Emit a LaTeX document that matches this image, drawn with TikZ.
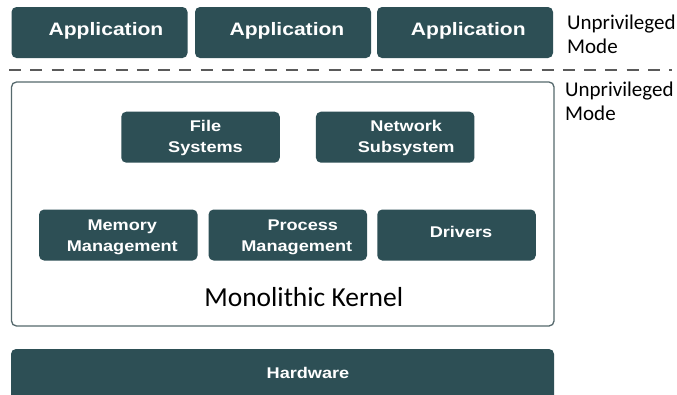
\documentclass[tikz,border=0pt]{standalone}
\usepackage{fontspec}
\newfontfamily\boxfont{Liberation Sans}[FakeStretch=1.17]
\newfontfamily\labelfont{Carlito}
\usetikzlibrary{calc}
\definecolor{slab}{HTML}{2D4F55}
\definecolor{kframe}{HTML}{56696D}
\definecolor{sepline}{HTML}{5A5A5A}
\tikzset{
  block/.style={fill=slab, rounded corners=5pt, inner sep=0pt},
  appbox/.style={block, minimum width=176pt, minimum height=51pt},
  unitbox/.style={block, minimum width=158.5pt, minimum height=51pt},
  boxtext/.style={text=white, align=center, inner sep=0pt,
    font=\boxfont\bfseries\fontsize{15.5}{21}\selectfont},
  apptext/.style={boxtext, font=\boxfont\bfseries\fontsize{18}{21}\selectfont},
  modetext/.style={font=\labelfont\fontsize{21}{24}\selectfont, align=left,
    anchor=north west, inner sep=0pt},
  kernelframe/.style={draw=kframe, line width=1.3pt, rounded corners=5pt,
    inner sep=0pt, minimum width=542.5pt, minimum height=244pt},
}
\begin{document}
\begin{tikzpicture}[x=1pt,y=-1pt]
  \clip (0,0) rectangle (677,394);
  \fill[white] (0,0) rectangle (677,394);

  % user space applications
  \node[appbox] (app1) at (99.5,32.5) {};
  \node[appbox] (app2) at (283,32.5) {};
  \node[appbox] (app3) at (465,32.5) {};
  \node[apptext] at ($(app1)+(6.5,-2)$) {Application};
  \node[apptext] at ($(app2)+(4,-2)$) {Application};
  \node[apptext] at ($(app3)+(3.3,-2)$) {Application};
  \node[modetext] (m1) at (567,14.6) {Unprivileged\\Mode};

  % boundary between user space and kernel space
  \coordinate (sepL) at (9,70);
  \coordinate (sepR) at (672,70);
  \draw[sepline, line width=1.8pt, dash pattern=on 12pt off 9.3pt] (sepL) -- (sepR);

  % kernel
  \node[kernelframe] (kernel) at (282.75,204) {};
  \node[modetext] (m2) at (565,82) {Unprivileged\\Mode};

  \node[unitbox] (fs)  at (200.5,137.2) {};
  \node[unitbox] (net) at (395.2,137.2) {};
  \node[unitbox] (mem) at (118.3,235) {};
  \node[unitbox] (proc) at (287.8,235) {};
  \node[unitbox] (drv) at (456.5,235) {};

  \node[boxtext] at ($(fs)+(5,1)$) {File\\Systems};
  \node[boxtext] at ($(net)+(11,1)$) {Network\\Subsystem};
  \node[boxtext] at ($(mem)+(4,2)$) {Memory\\Management};
  \node[boxtext] at ($(proc)+(9,2)$) {\hspace*{12pt}Process\\Management};
  \node[boxtext] at ($(drv)+(4.5,-3)$) {Drivers};

  \node[font=\labelfont\fontsize{27.5}{31}\selectfont, anchor=base, inner sep=0pt]
    (klabel) at (303.7,306) {Monolithic Kernel};

  % hardware
  \node[block, minimum width=543pt, minimum height=51pt] (hw) at (282.5,374.5) {};
  \node[boxtext] at (308,373) {Hardware};
\end{tikzpicture}
\end{document}
